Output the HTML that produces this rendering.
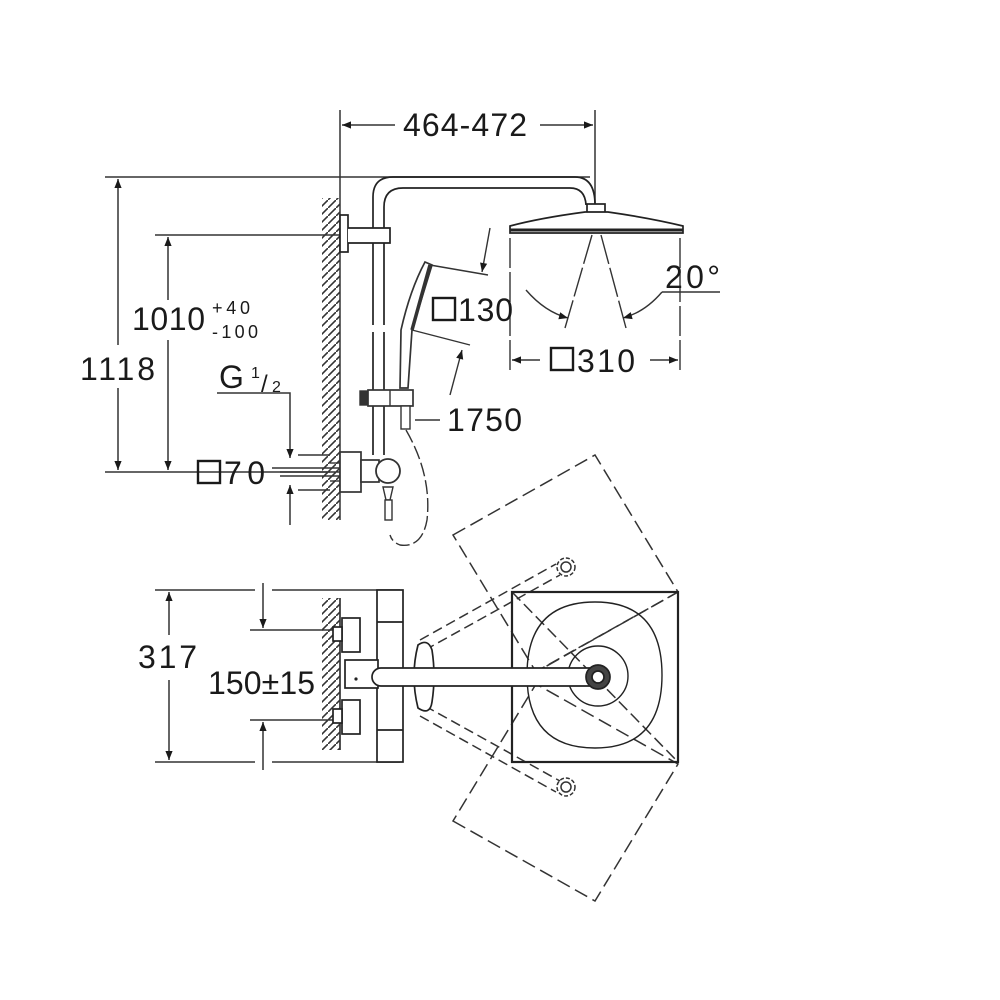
<!DOCTYPE html>
<html><head><meta charset="utf-8"><style>
html,body{margin:0;padding:0;background:#fff;}
svg{display:block;}
text{font-family:"Liberation Sans",sans-serif;fill:#1a1a1a;}
</style></head><body>
<svg width="1000" height="1000" viewBox="0 0 1000 1000" xmlns="http://www.w3.org/2000/svg">
<defs>
<marker id="ar" viewBox="0 0 10 10" refX="10" refY="5" markerWidth="18" markerHeight="9" orient="auto-start-reverse" markerUnits="userSpaceOnUse">
<path d="M0,1 L10,5 L0,9 z" fill="#1a1a1a"/></marker>
<pattern id="hatch" width="8" height="8" patternUnits="userSpaceOnUse">
<path d="M0,8 L8,0" stroke="#333" stroke-width="1.6"/></pattern>
</defs>
<g stroke="#333" fill="none" stroke-width="1.5">
<line x1="340" y1="110" x2="340" y2="520"/>
<line x1="595" y1="110" x2="595" y2="210"/>
<line x1="342" y1="125" x2="395" y2="125" marker-start="url(#ar)"/>
<line x1="540" y1="125" x2="593" y2="125" marker-end="url(#ar)"/>
<line x1="105" y1="177" x2="590" y2="177"/>
<line x1="105" y1="472" x2="330" y2="472"/>
<line x1="118" y1="179" x2="118" y2="345" marker-start="url(#ar)"/>
<line x1="118" y1="388" x2="118" y2="470" marker-end="url(#ar)"/>
<line x1="155" y1="235" x2="340" y2="235"/>
<line x1="168" y1="237" x2="168" y2="300" marker-start="url(#ar)"/>
<line x1="168" y1="340" x2="168" y2="470" marker-end="url(#ar)"/>
<polyline points="217,393 290,393 290,458" marker-end="url(#ar)"/>
<line x1="290" y1="525" x2="290" y2="485" marker-end="url(#ar)"/>
<line x1="298" y1="455" x2="330" y2="455"/>
<line x1="298" y1="490" x2="330" y2="490"/>
<line x1="272" y1="468" x2="340" y2="468"/><line x1="280" y1="472" x2="340" y2="472"/><line x1="280" y1="476" x2="340" y2="476"/>
</g>
<rect x="322" y="198" width="18" height="322" fill="url(#hatch)"/>
<rect x="322" y="598" width="18" height="152" fill="url(#hatch)"/>
<g stroke="#222" fill="none" stroke-width="1.7">
<path d="M373,325 L373,197 Q373,177 393,177 L575,177 Q595,177 595,205"/>
<path d="M384,325 L384,207 Q384,188 403,188 L570,188 Q585,188 586,205"/>
<path d="M373,332 L373,455 M384,332 L384,455"/>
<rect x="340" y="215" width="8" height="37" fill="#fff"/>
<path d="M348,228 L390,228 L390,243 L348,243" fill="#fff"/>
<rect x="587" y="204" width="18" height="9" fill="#fff"/>
<path d="M510,226 Q540,218 585,212 L608,212 Q650,218 683,226 L683,233 L510,233 Z" fill="#fff"/>
<line x1="510" y1="230" x2="683" y2="230" stroke-width="3"/>
</g>
<g stroke="#333" fill="none" stroke-width="1.4">
<line x1="510" y1="238" x2="510" y2="370" stroke-dasharray="30,4"/>
<line x1="680" y1="238" x2="680" y2="370" stroke-dasharray="30,4"/>
<line x1="592" y1="235" x2="565" y2="328" stroke-dasharray="30,4"/>
<line x1="601" y1="235" x2="626" y2="328" stroke-dasharray="30,4"/>
<path d="M526,290 Q545,312 568,318" marker-end="url(#ar)"/>
<path d="M662,292 Q645,312 623,318" marker-end="url(#ar)"/>
<line x1="662" y1="292" x2="720" y2="292"/>
<line x1="512" y1="360" x2="540" y2="360" marker-start="url(#ar)"/>
<line x1="650" y1="360" x2="678" y2="360" marker-end="url(#ar)"/>
<path d="M425,262 L432,265 L412,330 L408,388 L400,388 L401,330 Q410,290 425,262 Z" fill="#fff" stroke-width="1.7"/>
<line x1="430" y1="265" x2="412" y2="330" stroke-width="3.5"/>
<line x1="430" y1="265" x2="488" y2="275"/>
<line x1="412" y1="330" x2="470" y2="345"/>
<line x1="490" y1="228" x2="482" y2="272" marker-end="url(#ar)"/>
<line x1="450" y1="395" x2="462" y2="350" marker-end="url(#ar)"/>
<rect x="360" y="391" width="8" height="14" fill="#333"/>
<rect x="368" y="390" width="45" height="16" fill="#fff" stroke-width="1.7"/>
<line x1="390" y1="390" x2="390" y2="406"/>
<rect x="401" y="406" width="9" height="23" fill="#fff"/>
<line x1="415" y1="420" x2="440" y2="420"/>
<path d="M406,430 Q432,475 427,520 Q422,548 400,545 Q392,542 390,535" stroke-dasharray="14,4"/>
<rect x="340" y="452" width="21" height="40" fill="#fff" stroke-width="1.7"/>
<rect x="361" y="460" width="18" height="22" fill="#fff" stroke-width="1.7"/>
<circle cx="388" cy="471" r="12" fill="#fff" stroke-width="1.8"/>
<path d="M383,487 L393,487 L390,500 L386,500 Z" fill="#fff"/>
<rect x="385" y="500" width="7" height="20" fill="#fff"/>
<line x1="330" y1="463" x2="340" y2="463"/><line x1="330" y1="481" x2="340" y2="481"/>
</g>
<text x="403" y="136" font-size="32" textLength="124" lengthAdjust="spacing">464-472</text>
<text x="80" y="380" font-size="32" textLength="75" lengthAdjust="spacing">1118</text>
<text x="132" y="330" font-size="32" textLength="73" lengthAdjust="spacing">1010</text>
<text x="212" y="314" font-size="18" textLength="38" lengthAdjust="spacing">+40</text>
<text x="212" y="338" font-size="18" textLength="46" lengthAdjust="spacing">-100</text>
<text x="219" y="388" font-size="32">G</text>
<text x="251" y="378" font-size="16">1</text><text x="261" y="392" font-size="24">/</text><text x="272" y="392" font-size="16">2</text>
<rect x="198" y="461" width="22" height="22" fill="none" stroke="#1a1a1a" stroke-width="2.4"/>
<text x="224" y="484" font-size="32" textLength="41" lengthAdjust="spacing">70</text>
<rect x="433" y="298" width="22" height="22" fill="none" stroke="#1a1a1a" stroke-width="2.4"/>
<text x="458" y="321" font-size="32" textLength="55" lengthAdjust="spacing">130</text>
<rect x="551" y="348" width="22" height="22" fill="none" stroke="#1a1a1a" stroke-width="2.4"/>
<text x="577" y="372" font-size="32" textLength="58" lengthAdjust="spacing">310</text>
<text x="665" y="288" font-size="32" textLength="55" lengthAdjust="spacing">20°</text>
<text x="447" y="431" font-size="32" textLength="75" lengthAdjust="spacing">1750</text>
<g stroke="#333" fill="none" stroke-width="1.5">
<line x1="155" y1="590" x2="255" y2="590"/><line x1="272" y1="590" x2="400" y2="590"/>
<line x1="155" y1="762" x2="255" y2="762"/><line x1="272" y1="762" x2="400" y2="762"/>
<line x1="169" y1="592" x2="169" y2="635" marker-start="url(#ar)"/>
<line x1="169" y1="680" x2="169" y2="760" marker-end="url(#ar)"/>
<line x1="263" y1="583" x2="263" y2="628" marker-end="url(#ar)"/>
<line x1="263" y1="770" x2="263" y2="722" marker-end="url(#ar)"/>
<line x1="250" y1="630" x2="335" y2="630"/><line x1="250" y1="720" x2="335" y2="720"/>
<line x1="340" y1="598" x2="340" y2="750" stroke-width="1.7"/>
<polygon points="453,535 595,455 678,592 536,672" stroke-dasharray="14,6"/>
<polygon points="453,821 595,901 678,764 536,684" stroke-dasharray="14,6"/>
<line x1="420" y1="640" x2="556" y2="564" stroke-dasharray="10,5"/>
<line x1="425" y1="650" x2="560" y2="575" stroke-dasharray="10,5"/>
<line x1="420" y1="716" x2="556" y2="792" stroke-dasharray="10,5"/>
<line x1="425" y1="706" x2="560" y2="781" stroke-dasharray="10,5"/>
<line x1="512" y1="592" x2="678" y2="762" stroke-dasharray="12,5"/>
<line x1="678" y1="592" x2="530" y2="675" stroke-dasharray="12,5"/>
<circle cx="566" cy="567" r="9" stroke-dasharray="4,2"/><circle cx="566" cy="567" r="5"/>
<circle cx="566" cy="787" r="9" stroke-dasharray="4,2"/><circle cx="566" cy="787" r="5"/>
</g>
<g stroke="#222" fill="none" stroke-width="1.7">
<rect x="377" y="590" width="26" height="172" fill="#fff"/>
<line x1="377" y1="622" x2="403" y2="622"/><line x1="377" y1="730" x2="403" y2="730"/>
<rect x="342" y="618" width="18" height="34" fill="#fff"/>
<rect x="342" y="700" width="18" height="34" fill="#fff"/>
<rect x="333" y="627" width="9" height="14" fill="#fff"/><rect x="333" y="709" width="9" height="14" fill="#fff"/>
<rect x="345" y="660" width="33" height="28" fill="#fff"/>
<path d="M418,645 Q410,676 418,708 Q430,716 432,702 Q436,676 432,650 Q428,638 418,645 Z" fill="#fff"/>
<rect x="512" y="592" width="166" height="170" stroke-width="2.2"/>
<path d="M595,602 Q662,602 662,675 Q662,748 595,748 Q527,748 527,675 Q527,602 595,602 Z" stroke-width="1.4"/>
<circle cx="598" cy="676" r="30" stroke-width="1.4"/>
<rect x="372" y="668" width="228" height="18" rx="9" fill="#fff"/>
<circle cx="598" cy="677" r="12" fill="#444"/><circle cx="598" cy="677" r="6" fill="#fff"/>
</g>
<circle cx="356" cy="679" r="1.6" fill="#222"/>
<text x="138" y="668" font-size="32" textLength="59" lengthAdjust="spacing">317</text>
<text x="208" y="694" font-size="32" textLength="107" lengthAdjust="spacing">150±15</text>
</svg>
</body></html>
